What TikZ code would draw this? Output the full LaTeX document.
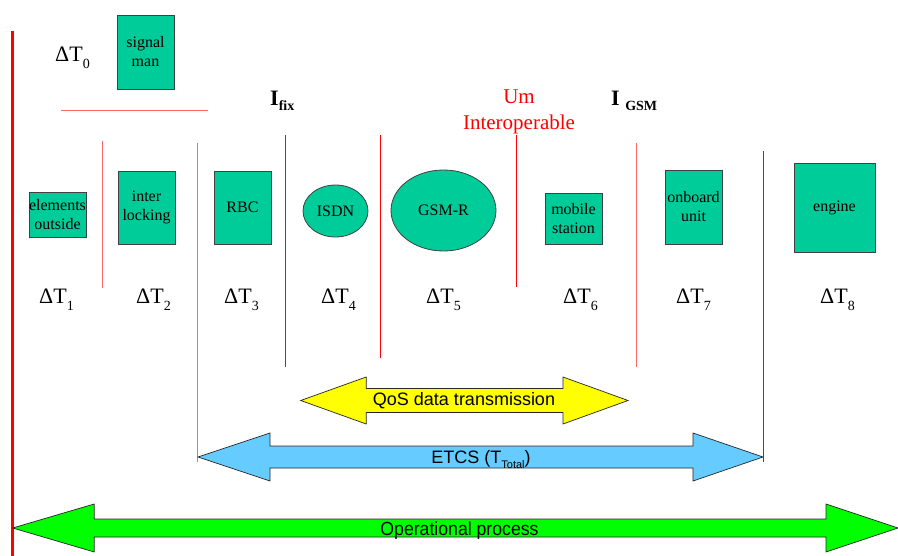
\documentclass[tikz,border=0pt]{standalone}
\usepackage{fontspec}
\setmainfont{Liberation Serif}
\newfontfamily\arialfont{Liberation Sans}
\usetikzlibrary{shapes.geometric}
\definecolor{boxgreen}{HTML}{00CC99}
\definecolor{qosyellow}{HTML}{FFFF00}
\definecolor{etcsblue}{HTML}{66CCFF}
\definecolor{opgreen}{HTML}{00FF00}
\newcommand\fsz[1]{\fontsize{#1}{#1}\selectfont}
% Delta-T label with a lowered index
\newcommand\deltat[1]{ΔT\raisebox{-0.28em}{\fsz{14}#1}}
% flat double-headed block arrow:
% #1 style, #2 left tip x, #3 right tip x, #4 centre y,
% #5 left head length, #6 right head length, #7 half shaft, #8 half head
\newcommand\blockarrow[8]{%
  \draw[#1] (#2,#4) -- ({#2+#5},{#4-#8}) -- ({#2+#5},{#4-#7})
    -- ({#3-#6},{#4-#7}) -- ({#3-#6},{#4-#8}) -- (#3,#4)
    -- ({#3-#6},{#4+#8}) -- ({#3-#6},{#4+#7}) -- ({#2+#5},{#4+#7})
    -- ({#2+#5},{#4+#8}) -- cycle;}
\begin{document}
\begin{tikzpicture}[x=1pt,y=-1pt,
  unit/.style={draw=black!75, fill=boxgreen, line width=0.8pt, inner sep=0pt,
    align=center, font=\fontsize{16}{19}\selectfont},
  roundunit/.style={unit, ellipse},
  seprule/.style={draw=red, line width=1pt},
  faintrule/.style={draw=red!60, line width=1pt},
  deltalabel/.style={anchor=base west, inner sep=0pt, font=\fsz{22}},
  arrowbody/.style={draw=black!85, line width=0.7pt},
  arrowtext/.style={inner sep=0pt, font=\arialfont\fsz{18}},
  ifacelabel/.style={anchor=base west, inner sep=0pt, font=\bfseries\fsz{22}}]
\useasboundingbox (0,0) rectangle (898,556);

% time axis and phase separators
\draw[draw=red, line width=2.5pt] (12.5,31) -- (12.5,556);
\draw[faintrule] (61,111) -- (208,111);
\draw[faintrule] (102,141) -- (102,288);
\draw[faintrule] (197,143) -- (197,462);
\draw[seprule] (285,135) -- (285,367);
\draw[seprule] (380,135) -- (380,358);
\draw[seprule] (516,135) -- (516,287);
\draw[faintrule] (636,143) -- (636,367);
\draw[seprule] (763,151) -- (763,462);

% chain elements
\node[unit, minimum width=57pt, minimum height=74pt] (signalman) at (145.5,52) {signal\\man};
\node[unit, minimum width=57pt, minimum height=45pt] (outside) at (57.5,214.5) {elements\\outside};
\node[unit, minimum width=57pt, minimum height=73pt] (interlocking) at (146.5,207.5) {inter\\locking};
\node[unit, minimum width=57pt, minimum height=73pt] (rbc) at (242.5,207.5) {RBC};
\node[roundunit, minimum width=65pt, minimum height=52pt] (isdn) at (335.5,211) {ISDN};
\node[roundunit, minimum width=105pt, minimum height=81pt] (gsmr) at (443.5,210.5) {GSM-R};
\node[unit, minimum width=57pt, minimum height=51pt] (mobile) at (573.5,218.5) {mobile\\station};
\node[unit, minimum width=57pt, minimum height=74pt] (onboard) at (693.5,207) {onboard\\unit};
\node[unit, minimum width=81pt, minimum height=89pt] (engine) at (834.5,207.5) {engine};

% delay labels
\node[deltalabel] (dt0) at (55,62) {\deltat{0}};
\node[deltalabel] (dt1) at (39,304) {\deltat{1}};
\node[deltalabel] (dt2) at (136,304) {\deltat{2}};
\node[deltalabel] (dt3) at (224,304) {\deltat{3}};
\node[deltalabel] (dt4) at (321,304) {\deltat{4}};
\node[deltalabel] (dt5) at (426,304) {\deltat{5}};
\node[deltalabel] (dt6) at (563,304) {\deltat{6}};
\node[deltalabel] (dt7) at (676,304) {\deltat{7}};
\node[deltalabel] (dt8) at (820,304) {\deltat{8}};

% interfaces
\node[ifacelabel] (ifix) at (270,106) {I\raisebox{-0.2em}{\fsz{14}fix}};
\node[ifacelabel] (igsm) at (611,106) {I \raisebox{-0.2em}{\fsz{14}GSM}};
\node[anchor=base, inner sep=0pt, text=red, font=\fsz{21}] (um) at (519,104) {Um};
\node[anchor=base, inner sep=0pt, text=red, font=\fsz{21}] (interop) at (519,130) {Interoperable};

% spans
\blockarrow{arrowbody, fill=qosyellow}{300.7}{628}{400.5}{65.5}{65}{12}{23.5}
\node[arrowtext] (qos) at (464,400.5) {QoS data transmission};
\blockarrow{arrowbody, fill=etcsblue}{198}{763}{457}{72}{70}{11}{24}
\node[arrowtext, anchor=base] (etcs) at (481,463) {ETCS (T\raisebox{-0.3em}{\fsz{11}Total})};
\blockarrow{arrowbody, fill=opgreen}{12.7}{898}{528}{81.5}{72}{9}{24}
\node[arrowtext, anchor=base, font=\arialfont\fsz{19}] (oper) at (459.5,535)
  {\scalebox{0.93}[1]{Operational process}};
\end{tikzpicture}
\end{document}
